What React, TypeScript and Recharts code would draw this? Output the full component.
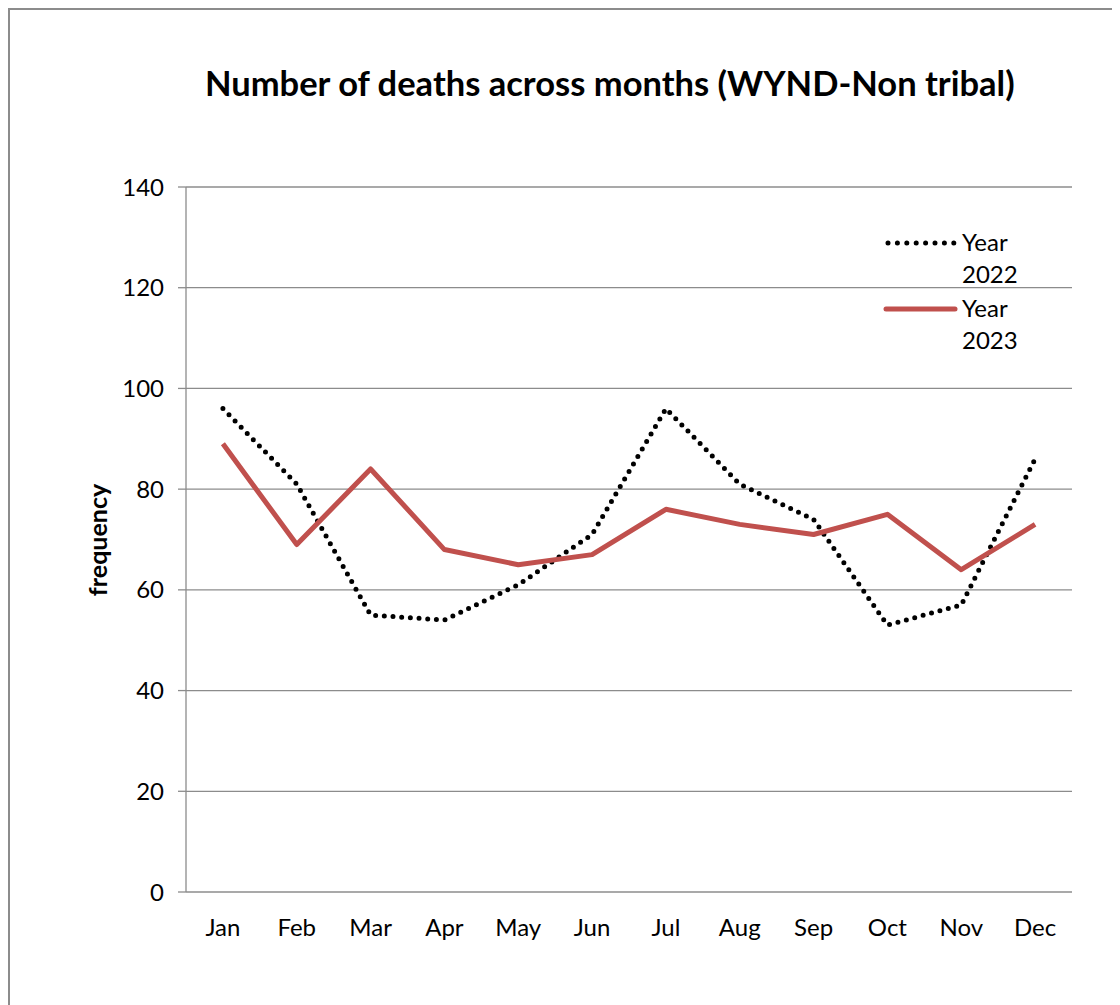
import React from 'react';
import { LineChart, Line, XAxis, YAxis, CartesianGrid, Legend } from 'recharts';

const months = ['Jan', 'Feb', 'Mar', 'Apr', 'May', 'Jun', 'Jul', 'Aug', 'Sep', 'Oct', 'Nov', 'Dec'];
const deaths2022 = [96, 81, 55, 54, 61, 71, 96, 81, 74, 53, 57, 86];
const deaths2023 = [89, 69, 84, 68, 65, 67, 76, 73, 71, 75, 64, 73];
const yTicks = [0, 20, 40, 60, 80, 100, 120, 140];

const data = months.map((m, i) => ({ x: i + 0.5, month: m, y2022: deaths2022[i], y2023: deaths2023[i] }));
const centerTicks = months.map((_, i) => i + 0.5);
const edgeTicks = [...months.map((_, i) => i), months.length];

const FONT = 'Lato, "Noto Sans", sans-serif';
const GRID = '#8c8c8c';

function LegendBox({ payload }: any) {
  return (
    <div style={{ fontFamily: FONT, fontSize: 24, color: '#000' }}>
      {(payload || []).map((e: any, i: number) => (
        <div key={i} style={{ display: 'flex', alignItems: 'flex-start', marginBottom: 2 }}>
          <svg width={80} height={32}>
            {e.payload.strokeDasharray ? (
              <line x1={6} y1={17} x2={72} y2={17} stroke="#000" strokeWidth={5} strokeDasharray="0 9.4" strokeLinecap="round" />
            ) : (
              <line x1={4} y1={17} x2={73} y2={17} stroke="#C0504D" strokeWidth={5} strokeLinecap="round" />
            )}
          </svg>
          <div style={{ width: 62, lineHeight: '32px', marginLeft: 0 }}>{e.value}</div>
        </div>
      ))}
    </div>
  );
}

export default function App() {
  return (
    <div
      style={{
        position: 'relative',
        width: 1110,
        height: 995,
        borderLeft: `2px solid ${GRID}`,
        borderTop: `2px solid ${GRID}`,
        background: '#fff',
      }}
    >
      <div
        style={{
          position: 'absolute',
          left: 195,
          width: 800,
          top: 53,
          textAlign: 'center',
          whiteSpace: 'nowrap',
          fontFamily: FONT,
          fontWeight: 700,
          fontSize: 34.5,
          lineHeight: '40px',
          color: '#000',
        }}
      >
        Number of deaths across months (WYND-Non tribal)
      </div>
      <div
        style={{
          position: 'absolute',
          left: 87,
          top: 530,
          transform: 'translate(-50%, -50%) rotate(-90deg)',
          fontFamily: FONT,
          fontWeight: 700,
          fontSize: 25,
          whiteSpace: 'nowrap',
          color: '#000',
        }}
      >
        frequency
      </div>
      <LineChart width={1110} height={995} data={data} margin={{ top: 177, right: 48, left: 116, bottom: 73 }}>
        <CartesianGrid horizontal vertical={false} stroke={GRID} strokeWidth={1.3} />
        <XAxis
          xAxisId="edge"
          type="number"
          dataKey="x"
          domain={[0, months.length]}
          ticks={edgeTicks}
          tickFormatter={() => ''}
          tickSize={7}
          height={0}
          stroke={GRID}
          strokeWidth={1.3}
        />
        <XAxis
          type="number"
          dataKey="x"
          domain={[0, months.length]}
          ticks={centerTicks}
          tickFormatter={(v: number) => months[Math.floor(v)]}
          axisLine={false}
          tickLine={false}
          tickSize={0}
          tickMargin={27}
          height={40}
          tick={{ fill: '#000', fontSize: 24, fontFamily: FONT }}
        />
        <YAxis
          domain={[0, 140]}
          ticks={yTicks}
          width={60}
          tickSize={8}
          tickMargin={14}
          stroke={GRID}
          strokeWidth={1.3}
          tick={{ fill: '#000', fontSize: 24, fontFamily: FONT }}
        />
        <Legend
          layout="horizontal"
          verticalAlign="middle"
          align="center"
          content={<LegendBox />}
          wrapperStyle={{ left: 872, top: 216, width: 180 }}
        />
        <Line
          dataKey="y2022"
          name="Year 2022"
          stroke="#000"
          strokeWidth={5}
          strokeDasharray="0 8.7"
          strokeLinecap="round"
          dot={false}
          activeDot={false}
          isAnimationActive={false}
        />
        <Line
          dataKey="y2023"
          name="Year 2023"
          stroke="#C0504D"
          strokeWidth={5}
          strokeLinejoin="round"
          dot={false}
          activeDot={false}
          isAnimationActive={false}
        />
      </LineChart>
    </div>
  );
}
